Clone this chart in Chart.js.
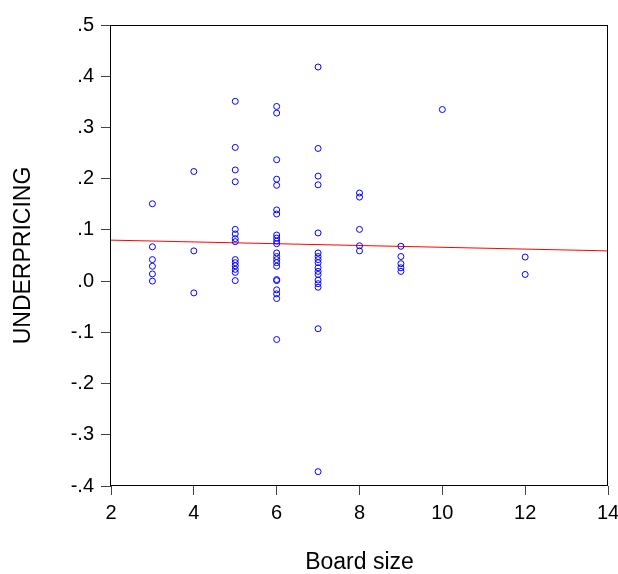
<!DOCTYPE html>
<html>
<head>
<meta charset="utf-8">
<script src="https://cdn.jsdelivr.net/npm/chart.js@4.4.1/dist/chart.umd.min.js"></script>
<style>
  html, body { margin: 0; padding: 0; background: #fff; }
  #wrap { width: 618px; height: 574px; }
</style>
</head>
<body>
<div id="wrap"><canvas id="chart" width="618" height="574"></canvas></div>
<script>
// board size per IPO (x) and underpricing (y)
const boardSize = [
  3, 3, 3, 3, 3, 3,
  4, 4, 4,
  5, 5, 5, 5, 5, 5, 5, 5, 5, 5, 5, 5, 5, 5,
  6, 6, 6, 6, 6, 6, 6, 6, 6, 6, 6, 6, 6, 6, 6, 6, 6, 6, 6, 6, 6, 6,
  7, 7, 7, 7, 7, 7, 7, 7, 7, 7, 7, 7, 7, 7, 7, 7, 7,
  8, 8, 8, 8, 8,
  9, 9, 9, 9, 9,
  10,
  12, 12
];
const underpricing = [
  0.151, 0.067, 0.042, 0.029, 0.014, 0.000,
  0.214, 0.059, -0.023,
  0.351, 0.261, 0.217, 0.194, 0.101, 0.092, 0.083, 0.077, 0.042, 0.036, 0.030, 0.023, 0.017, 0.001,
  0.341, 0.328, 0.237, 0.199, 0.187, 0.139, 0.131, 0.090, 0.084, 0.078, 0.073, 0.055, 0.048, 0.042, 0.036, 0.029, 0.003, 0.001, -0.017, -0.025, -0.034, -0.114,
  0.418, 0.259, 0.205, 0.188, 0.094, 0.055, 0.048, 0.042, 0.036, 0.026, 0.019, 0.013, 0.002, -0.005, -0.012, -0.093, -0.372,
  0.172, 0.164, 0.101, 0.069, 0.059,
  0.068, 0.048, 0.034, 0.026, 0.019,
  0.335,
  0.047, 0.013
];

// fitted line end points
const fitX = [2, 14];
const fitY = [0.080, 0.059];

const xTicks = [2, 4, 6, 8, 10, 12, 14];
const yTicks = [-0.4, -0.3, -0.2, -0.1, 0.0, 0.1, 0.2, 0.3, 0.4, 0.5];
const yTickLabels = ['-.4', '-.3', '-.2', '-.1', '.0', '.1', '.2', '.3', '.4', '.5'];

const FONT = "'Liberation Sans', Arial, sans-serif";

const scatterData = boardSize.map((x, i) => ({ x: x, y: underpricing[i] }));
const fitData = fitX.map((x, i) => ({ x: x, y: fitY[i] }));

// box round the plot area
const framePlugin = {
  id: 'frame',
  afterDraw(chart) {
    const { ctx, chartArea: a } = chart;
    ctx.save();
    ctx.strokeStyle = '#000';
    ctx.lineWidth = 1;
    const l = Math.round(a.left) - 0.5, t = Math.round(a.top) + 0.5;
    const r = Math.round(a.right) - 0.5, b = Math.round(a.bottom) - 0.5;
    ctx.strokeRect(l, t, r - l, b - t);
    ctx.restore();
  }
};

new Chart(document.getElementById('chart'), {
  type: 'scatter',
  data: {
    datasets: [
      {
        label: 'UNDERPRICING',
        data: scatterData,
        pointStyle: 'circle',
        pointRadius: 3,
        pointBorderWidth: 1,
        borderColor: '#0000FF',
        backgroundColor: 'rgba(0,0,0,0)',
        order: 1
      },
      {
        type: 'line',
        label: 'fit',
        data: fitData,
        borderColor: '#FF0000',
        borderWidth: 1,
        pointRadius: 0,
        fill: false,
        order: 2
      }
    ]
  },
  options: {
    responsive: false,
    animation: false,
    layout: { padding: { left: 0, top: 25, right: 10, bottom: 0 } },
    plugins: {
      legend: { display: false },
      tooltip: { enabled: false }
    },
    scales: {
      x: {
        type: 'linear',
        min: 2,
        max: 14,
        afterBuildTicks: (s) => { s.ticks = xTicks.map(v => ({ value: v })); },
        afterFit: (s) => { s.height = 88; s.paddingLeft = 0; s.paddingRight = 0; },
        grid: { drawOnChartArea: false, drawTicks: true, tickLength: 9, tickColor: '#444' },
        border: { display: false },
        ticks: {
          color: '#000',
          padding: 6,
          maxRotation: 0,
          font: { family: FONT, size: 20 },
          callback: (v) => String(v)
        },
        title: {
          display: true,
          text: 'Board size',
          color: '#000',
          padding: { top: 0, bottom: 0 },
          font: { family: FONT, size: 23, lineHeight: 1 }
        }
      },
      y: {
        type: 'linear',
        min: -0.4,
        max: 0.5,
        afterBuildTicks: (s) => { s.ticks = yTicks.map(v => ({ value: v })); },
        afterFit: (s) => { s.width = 111; s.paddingTop = 0; s.paddingBottom = 0; },
        grid: { drawOnChartArea: false, drawTicks: true, tickLength: 10, tickColor: '#444' },
        border: { display: false },
        ticks: {
          color: '#000',
          padding: 7,
          font: { family: FONT, size: 20 },
          callback: (v, i) => yTickLabels[i]
        },
        title: {
          display: true,
          text: 'UNDERPRICING',
          color: '#000',
          padding: { top: 12, bottom: 0 },
          font: { family: FONT, size: 23, lineHeight: 1 }
        }
      }
    }
  },
  plugins: [framePlugin]
});
</script>
</body>
</html>
